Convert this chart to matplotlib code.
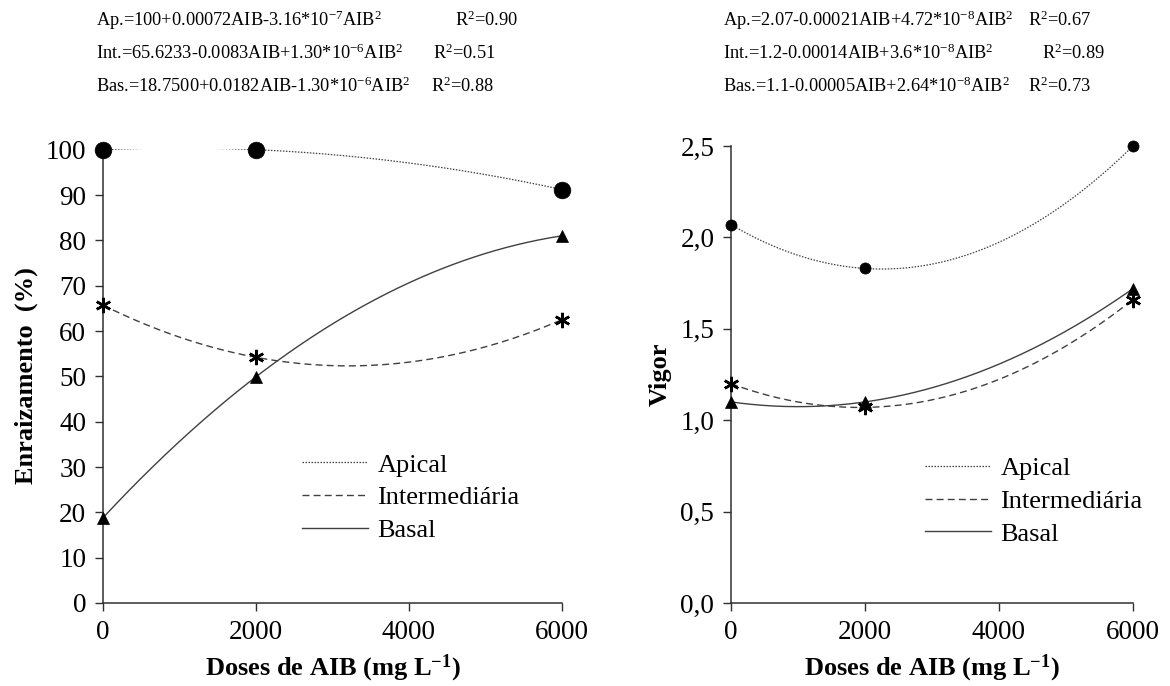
import numpy as np
import matplotlib
matplotlib.use("Agg")
import matplotlib.pyplot as plt
from matplotlib.ticker import FuncFormatter

plt.rcParams["font.family"] = ["Liberation Serif", "DejaVu Serif"]
plt.rcParams["mathtext.fontset"] = "custom"
plt.rcParams["mathtext.rm"] = "Liberation Serif"
plt.rcParams["mathtext.it"] = "Liberation Serif:italic"
plt.rcParams["mathtext.bf"] = "Liberation Serif:bold"

# data
doses = [0, 2000, 6000]
series = ["Apical", "Intermediária", "Basal"]

enr_apical = [100, 100, 91.2]
enr_inter = [65.7, 54.2, 62.5]
enr_basal = [18.8, 49.9, 81.0]

vig_apical = [2.07, 1.83, 2.50]
vig_inter = [1.20, 1.07, 1.66]
vig_basal = [1.10, 1.10, 1.72]

eq_left = ["Ap.=100+0.00072AIB-3.16*10$^{-7}$AIB$^{2}$",
           "Int.=65.6233-0.0083AIB+1.30*10$^{-6}$AIB$^{2}$",
           "Bas.=18.7500+0.0182AIB-1.30*10$^{-6}$AIB$^{2}$"]
r2_left = ["R$^{2}$=0.90", "R$^{2}$=0.51", "R$^{2}$=0.88"]
eq_right = ["Ap.=2.07-0.00021AIB+4.72*10$^{-8}$AIB$^{2}$",
            "Int.=1.2-0.00014AIB+3.6*10$^{-8}$AIB$^{2}$",
            "Bas.=1.1-0.00005AIB+2.64*10$^{-8}$AIB$^{2}$"]
r2_right = ["R$^{2}$=0.67", "R$^{2}$=0.89", "R$^{2}$=0.73"]

styles = [
    {"ls": (0, (1.2, 1.2)), "lw": 0.9, "marker": "o"},
    {"ls": (0, (5, 3)), "lw": 1.0, "marker": (6, 2, 0)},
    {"ls": "-", "lw": 1.0, "marker": "^"},
]
line_col = "#404040"
W, H = 1170, 686

fig = plt.figure(figsize=(11.7, 6.86), dpi=100, facecolor="white")
ax1 = fig.add_axes([103 / W, 83 / H, 459 / W, 454 / H])
ax2 = fig.add_axes([731 / W, 83 / H, 402 / W, 457 / H])


def draw(ax, ys, msizes, leg_anchor):
    xx = np.linspace(0, 6000, 300)
    for name, y, st, ms in zip(series, ys, styles, msizes):
        coef = np.polyfit(doses, y, 2)
        ax.plot(xx, np.polyval(coef, xx), color=line_col, ls=st["ls"], lw=st["lw"], label=name)
        mew = 1.8 if st["marker"] == (6, 2, 0) else 0.5
        ax.plot(doses, y, ls="none", marker=st["marker"], ms=ms, color="black",
                mew=mew, clip_on=False, zorder=5)
    for s in ["top", "right"]:
        ax.spines[s].set_visible(False)
    for s in ["left", "bottom"]:
        ax.spines[s].set_color("#303030")
        ax.spines[s].set_linewidth(1.1)
    ax.set_xlim(0, 6000)
    ax.set_xticks([0, 2000, 4000, 6000])
    ax.tick_params(direction="out", length=6, width=1.0, color="#303030",
                   labelsize=19.5, pad=6)
    ax.set_xlabel("Doses de AIB (mg L$^{\\mathbf{-1}}$)", fontsize=19, fontweight="bold", labelpad=6)
    ax.legend(frameon=False, fontsize=19, handlelength=2.5, handletextpad=0.35,
              labelspacing=0.35, borderpad=0, borderaxespad=0,
              loc="upper left", bbox_to_anchor=leg_anchor)


draw(ax1, [enr_apical, enr_inter, enr_basal], [12, 11, 9], (0.434, 0.33))
ax1.set_ylim(0, 100.15)
ax1.set_yticks(np.arange(0, 101, 10))
ax1.set_ylabel("Enraizamento  (%)", fontsize=19, fontweight="bold", labelpad=6)

draw(ax2, [vig_apical, vig_inter, vig_basal], [8, 11, 9], (0.483, 0.32))
ax2.set_ylim(0, 2.5)
ax2.set_yticks(np.arange(0, 2.51, 0.5))
ax2.yaxis.set_major_formatter(FuncFormatter(lambda v, p: f"{v:.1f}".replace(".", ",")))
ax2.set_ylabel("Vigor", fontsize=19, fontweight="bold", labelpad=6)

rows_y = [20, 53, 86]
r2_xl = [455, 433, 431]
r2_xr = [1028, 1042, 1028]
for t, r, yy, xr in zip(eq_left, r2_left, rows_y, r2_xl):
    fig.text(96 / W, 1 - yy / H, t, fontsize=13.2, va="center")
    fig.text(xr / W, 1 - yy / H, r, fontsize=13.2, va="center")
for t, r, yy, xr in zip(eq_right, r2_right, rows_y, r2_xr):
    fig.text(723 / W, 1 - yy / H, t, fontsize=13.2, va="center")
    fig.text(xr / W, 1 - yy / H, r, fontsize=13.2, va="center")

fig.savefig("out.png", dpi=100, facecolor="white")
